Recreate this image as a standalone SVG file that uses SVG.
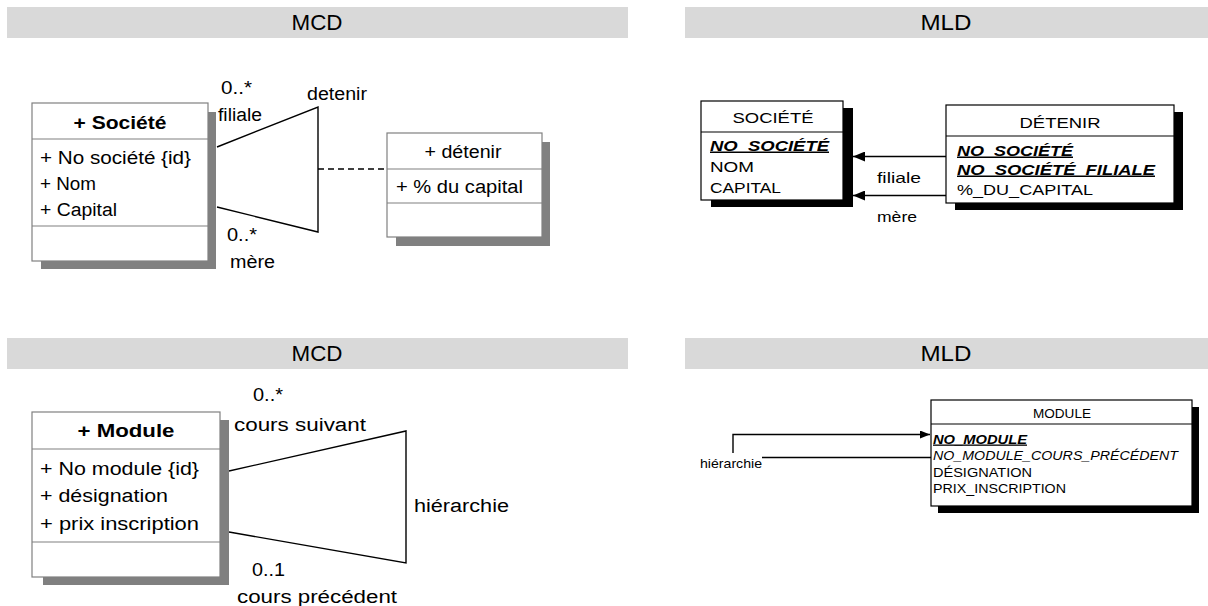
<svg xmlns="http://www.w3.org/2000/svg" width="1208" height="606" viewBox="0 0 1208 606">
<defs>
<marker id="arr" markerWidth="12" markerHeight="10" refX="12" refY="5" orient="auto" markerUnits="userSpaceOnUse"><path d="M0,0 L12,5 L0,10 z" fill="#000"/></marker>
<marker id="arrs" markerWidth="10" markerHeight="8" refX="10" refY="4" orient="auto" markerUnits="userSpaceOnUse"><path d="M0,0 L10,4 L0,8 z" fill="#000"/></marker>
</defs>
<style>
text{font-family:"Liberation Sans",Arial,sans-serif;fill:#000}
.bar{fill:#d9d9d9}
.hd{font-size:22px}
.mcd{font-size:18px}
.b{font-weight:bold}
.ucls{fill:#fff;stroke:#808080;stroke-width:1.2}
.ush{fill:#808080}
.usep{stroke:#808080;stroke-width:1.2}
.mld{font-size:15px}
.mlds{font-size:13px}
.tbl{fill:#fff;stroke:#000;stroke-width:1.2}
.tsh{fill:#000}
.tsep{stroke:#000;stroke-width:1.2}
.pk{font-weight:bold;font-style:italic;text-decoration:underline}
.fk{font-style:italic}
.ln{stroke:#000;stroke-width:1.4;fill:none}
.dash{stroke:#000;stroke-width:1.4;stroke-dasharray:6 4;fill:none}
</style>

<g id="headers">
<rect class="bar" x="7" y="7" width="621" height="31"/>
<text class="hd" x="317" y="30" text-anchor="middle" textLength="51" lengthAdjust="spacingAndGlyphs">MCD</text>
<rect class="bar" x="685" y="7" width="523" height="31"/>
<text class="hd" x="946" y="30" text-anchor="middle" textLength="51" lengthAdjust="spacingAndGlyphs">MLD</text>
<rect class="bar" x="7" y="338" width="621" height="31"/>
<text class="hd" x="317" y="361" text-anchor="middle" textLength="51" lengthAdjust="spacingAndGlyphs">MCD</text>
<rect class="bar" x="685" y="338" width="523" height="31"/>
<text class="hd" x="946" y="361" text-anchor="middle" textLength="51" lengthAdjust="spacingAndGlyphs">MLD</text>
</g>

<g id="connectors">
<polyline class="ln" points="217,147 318,107 318,232 217,207"/>
<line class="dash" x1="318" y1="169" x2="387" y2="169"/>
<polyline class="ln" points="229,471 406,431 406,563 229,532"/>
<line class="ln" x1="946" y1="156.5" x2="853" y2="156.5" marker-end="url(#arr)"/>
<line class="ln" x1="946" y1="195.5" x2="853" y2="195.5" marker-end="url(#arr)"/>
<path class="ln" d="M733,453 V434.5 H930" marker-end="url(#arrs)"/>
<line class="ln" x1="762" y1="457.5" x2="931" y2="457.5"/>
</g>

<g id="mcd-labels">
<text class="mcd" x="221" y="94" textLength="31" lengthAdjust="spacingAndGlyphs">0..*</text>
<text class="mcd" x="218" y="121" textLength="44" lengthAdjust="spacingAndGlyphs">filiale</text>
<text class="mcd" x="307" y="100" textLength="60" lengthAdjust="spacingAndGlyphs">detenir</text>
<text class="mcd" x="227" y="241" textLength="30" lengthAdjust="spacingAndGlyphs">0..*</text>
<text class="mcd" x="230" y="268" textLength="45" lengthAdjust="spacingAndGlyphs">mère</text>
<text class="mcd" x="253" y="401" textLength="30" lengthAdjust="spacingAndGlyphs">0..*</text>
<text class="mcd" x="234" y="431" textLength="132" lengthAdjust="spacingAndGlyphs">cours suivant</text>
<text class="mcd" x="414" y="512" textLength="95" lengthAdjust="spacingAndGlyphs">hiérarchie</text>
<text class="mcd" x="252" y="576" textLength="33" lengthAdjust="spacingAndGlyphs">0..1</text>
<text class="mcd" x="237" y="603" textLength="160" lengthAdjust="spacingAndGlyphs">cours précédent</text>
</g>

<g id="mld-labels">
<text class="mld" x="877" y="183" textLength="44" lengthAdjust="spacingAndGlyphs">filiale</text>
<text class="mld" x="877" y="222" textLength="40" lengthAdjust="spacingAndGlyphs">mère</text>
<text class="mlds" x="700" y="468" textLength="62" lengthAdjust="spacingAndGlyphs">hiérarchie</text>
</g>

<g id="societe-mcd">
<rect class="ush" x="41" y="112" width="175" height="157"/>
<rect class="ucls" x="32" y="103" width="176" height="158"/>
<line class="usep" x1="32" y1="139" x2="208" y2="139"/>
<line class="usep" x1="32" y1="226" x2="208" y2="226"/>
<text class="mcd b" x="120" y="128.5" text-anchor="middle" textLength="93" lengthAdjust="spacingAndGlyphs">+ Société</text>
<text class="mcd" x="40" y="163.5" textLength="151" lengthAdjust="spacingAndGlyphs">+ No société {id}</text>
<text class="mcd" x="40" y="189.5" textLength="56" lengthAdjust="spacingAndGlyphs">+ Nom</text>
<text class="mcd" x="40" y="215.5" textLength="77" lengthAdjust="spacingAndGlyphs">+ Capital</text>
</g>

<g id="detenir-mcd">
<rect class="ush" x="396" y="142" width="154" height="104"/>
<rect class="ucls" x="387" y="133" width="155" height="104"/>
<line class="usep" x1="387" y1="169" x2="542" y2="169"/>
<line class="usep" x1="387" y1="203" x2="542" y2="203"/>
<text class="mcd" x="463" y="158" text-anchor="middle" textLength="77" lengthAdjust="spacingAndGlyphs">+ détenir</text>
<text class="mcd" x="396" y="193" textLength="127" lengthAdjust="spacingAndGlyphs">+ % du capital</text>
</g>

<g id="module-mcd">
<rect class="ush" x="43" y="420" width="186" height="165"/>
<rect class="ucls" x="32" y="412" width="188" height="165"/>
<line class="usep" x1="32" y1="449" x2="220" y2="449"/>
<line class="usep" x1="32" y1="542" x2="220" y2="542"/>
<text class="mcd b" x="126" y="436.5" text-anchor="middle" textLength="97" lengthAdjust="spacingAndGlyphs">+ Module</text>
<text class="mcd" x="40" y="474.5" textLength="159" lengthAdjust="spacingAndGlyphs">+ No module {id}</text>
<text class="mcd" x="40" y="501.5" textLength="128" lengthAdjust="spacingAndGlyphs">+ désignation</text>
<text class="mcd" x="40" y="529.5" textLength="159" lengthAdjust="spacingAndGlyphs">+ prix inscription</text>
</g>

<g id="societe-mld">
<rect class="tsh" x="711" y="108" width="142" height="99"/>
<rect class="tbl" x="701" y="101" width="142" height="99"/>
<line class="tsep" x1="701" y1="132" x2="843" y2="132"/>
<text class="mld" x="773" y="122.5" text-anchor="middle" textLength="81" lengthAdjust="spacingAndGlyphs">SOCIÉTÉ</text>
<text class="mld pk" x="710" y="150.5" textLength="119" lengthAdjust="spacingAndGlyphs">NO_SOCIÉTÉ</text>
<text class="mld" x="710" y="171.5" textLength="44" lengthAdjust="spacingAndGlyphs">NOM</text>
<text class="mld" x="710" y="192.5" textLength="71" lengthAdjust="spacingAndGlyphs">CAPITAL</text>
</g>

<g id="detenir-mld">
<rect class="tsh" x="955" y="112" width="228" height="98"/>
<rect class="tbl" x="946" y="105" width="228" height="98"/>
<line class="tsep" x1="946" y1="136" x2="1174" y2="136"/>
<text class="mld" x="1060" y="127.5" text-anchor="middle" textLength="81" lengthAdjust="spacingAndGlyphs">DÉTENIR</text>
<text class="mld pk" x="957" y="155.5" textLength="116" lengthAdjust="spacingAndGlyphs">NO_SOCIÉTÉ</text>
<text class="mld pk" x="957" y="174.5" textLength="198" lengthAdjust="spacingAndGlyphs">NO_SOCIÉTÉ_FILIALE</text>
<text class="mld" x="957" y="194.5" textLength="136" lengthAdjust="spacingAndGlyphs">%_DU_CAPITAL</text>
</g>

<g id="module-mld">
<rect class="tsh" x="938" y="407" width="261" height="106"/>
<rect class="tbl" x="931" y="400" width="261" height="106"/>
<line class="tsep" x1="931" y1="424" x2="1192" y2="424"/>
<text class="mlds" x="1062" y="417.5" text-anchor="middle" textLength="58" lengthAdjust="spacingAndGlyphs">MODULE</text>
<text class="mlds pk" x="933" y="443.5" textLength="94" lengthAdjust="spacingAndGlyphs">NO_MODULE</text>
<text class="mlds fk" x="933" y="459.5" textLength="245" lengthAdjust="spacingAndGlyphs">NO_MODULE_COURS_PRÉCÉDENT</text>
<text class="mlds" x="933" y="476.5" textLength="99" lengthAdjust="spacingAndGlyphs">DÉSIGNATION</text>
<text class="mlds" x="933" y="492.5" textLength="133" lengthAdjust="spacingAndGlyphs">PRIX_INSCRIPTION</text>
</g>
</svg>
